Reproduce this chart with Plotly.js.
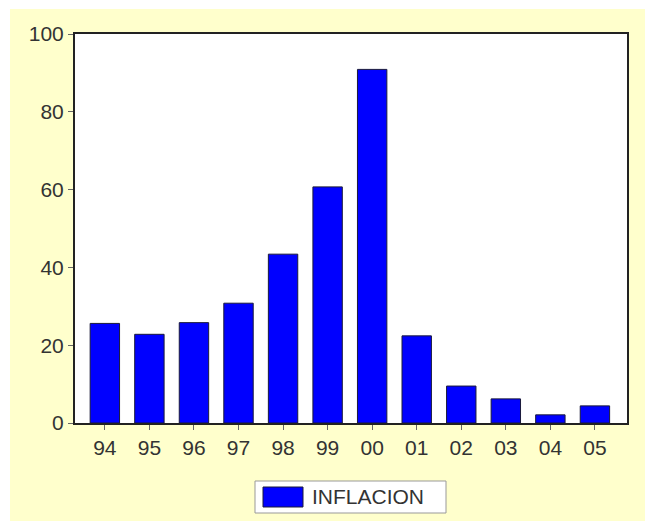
<!DOCTYPE html>
<html>
<head>
<meta charset="utf-8">
<script src="https://cdn.plot.ly/plotly-3.0.1.min.js"></script>
<style>html,body{margin:0;padding:0;background:#fff;}</style>
</head>
<body>
<div id="chart" style="width:645px;height:521px;"></div>
<script>
const years = ["94","95","96","97","98","99","00","01","02","03","04","05"];
const inflacion = [25.6, 22.8, 25.8, 30.8, 43.4, 60.7, 90.9, 22.4, 9.5, 6.2, 2.1, 4.4];
const seriesName = "INFLACION";
const yTicks = [0, 20, 40, 60, 80, 100];

const trace = {
  type: "bar",
  x: years,
  y: inflacion,
  name: seriesName,
  marker: {color: "#0000FF", line: {color: "#1a1a3a", width: 1}},
  showlegend: false,
  hoverinfo: "x+y"
};

const font = {family: "Liberation Sans, Arial, sans-serif", size: 21, color: "#333333"};

const layout = {
  width: 645, height: 521,
  margin: {l: 75, r: 18, t: 34, b: 98, pad: 0},
  paper_bgcolor: "#FFFFFF",
  plot_bgcolor: "rgba(0,0,0,0)",
  bargap: 0.34,
  font: font,
  xaxis: {
    type: "category",
    range: [-0.67, 11.72],
    showgrid: false, zeroline: false,
    showline: true, mirror: true, linecolor: "#222222", linewidth: 2,
    ticks: "outside", ticklen: 5, tickcolor: "#666666", tickwidth: 1,
    tickfont: font
  },
  yaxis: {
    range: [0, 100],
    tickvals: yTicks,
    showgrid: false, zeroline: false,
    showline: true, mirror: true, linecolor: "#222222", linewidth: 2,
    ticks: "outside", ticklen: 5, tickcolor: "#666666", tickwidth: 1,
    tickfont: font
  },
  shapes: [
    {type: "rect", xref: "paper", yref: "paper", x0: -65/552, x1: 570/552, y0: -98/389, y1: 414/389,
     fillcolor: "#FFFFCC", line: {width: 0}, layer: "below"},
    {type: "rect", xref: "paper", yref: "paper", x0: 0, x1: 1, y0: 0, y1: 1,
     fillcolor: "#FFFFFF", line: {width: 0}, layer: "below"},
    {type: "rect", xref: "paper", yref: "paper", x0: (255-75)/552, x1: (446-75)/552, y0: (423-513)/389, y1: (423-481)/389,
     fillcolor: "#FFFFFF", line: {color: "#999999", width: 1}},
    {type: "rect", xref: "paper", yref: "paper", x0: (263-75)/552, x1: (303-75)/552, y0: (423-507)/389, y1: (423-487)/389,
     fillcolor: "#0000FF", line: {color: "#1a1a3a", width: 1}}
  ],
  annotations: [
    {xref: "paper", yref: "paper", x: (310-75)/552, y: (423-497)/389, xanchor: "left", yanchor: "middle",
     text: seriesName, showarrow: false, font: font}
  ]
};

Plotly.newPlot("chart", [trace], layout, {displayModeBar: false, staticPlot: true});
</script>
</body>
</html>
